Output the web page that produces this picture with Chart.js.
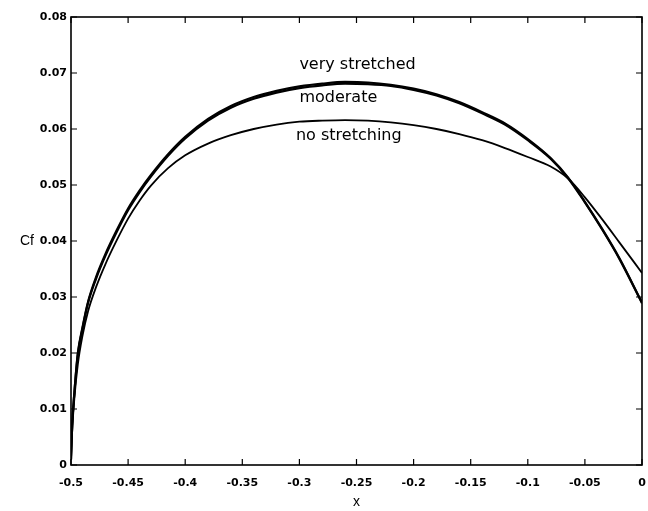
<!DOCTYPE html>
<html>
<head>
<meta charset="utf-8">
<script src="https://cdn.jsdelivr.net/npm/chart.js@4/dist/chart.umd.min.js"></script>
<style>
  html, body { margin: 0; padding: 0; background: #fff; }
  #wrap { width: 648px; height: 511px; }
</style>
</head>
<body>
<div id="wrap"><canvas id="cfChart"></canvas></div>
<script>
// x positions along the wall (denser near the leading edge)
const xPos = [-0.5, -0.499, -0.497, -0.494, -0.49, -0.485, -0.478, -0.47, -0.46, -0.45,
    -0.44, -0.43, -0.415, -0.4, -0.38, -0.36, -0.34, -0.32, -0.3, -0.28,
    -0.26, -0.24, -0.22, -0.2, -0.18, -0.16, -0.14, -0.12, -0.1, -0.08,
    -0.065, -0.05, -0.035, -0.02, 0];

const cfVeryStretched = [0.001, 0.007, 0.013, 0.020, 0.0245, 0.0292, 0.0336, 0.0376, 0.0419, 0.0458,
    0.0490, 0.0518, 0.0555, 0.0586, 0.0618, 0.0641, 0.0657, 0.0668, 0.0676, 0.0681,
    0.0684, 0.0683, 0.0679, 0.0672, 0.0662, 0.0648, 0.0630, 0.0610, 0.0582, 0.0548,
    0.0514, 0.0470, 0.0422, 0.0370, 0.0290];

const cfModerate = [0.001, 0.007, 0.013, 0.0198, 0.0243, 0.0290, 0.0333, 0.0373, 0.0416, 0.0455,
    0.0487, 0.0515, 0.0552, 0.0583, 0.0615, 0.0638, 0.0654, 0.0665, 0.0673, 0.0678,
    0.0681, 0.0680, 0.0677, 0.0670, 0.0660, 0.0646, 0.0628, 0.0608, 0.0580, 0.0547,
    0.0513, 0.0469, 0.0421, 0.0369, 0.0289];

const cfNoStretching = [0.001, 0.006, 0.012, 0.018, 0.0230, 0.0275, 0.0318, 0.0358, 0.0401, 0.0440,
    0.0472, 0.0499, 0.0530, 0.0553, 0.0574, 0.0589, 0.0600, 0.0608, 0.0613, 0.0615,
    0.0616, 0.0615, 0.0612, 0.0607, 0.0600, 0.0591, 0.0580, 0.0566, 0.0550, 0.0533,
    0.0512, 0.0478, 0.0439, 0.0398, 0.0343];

const xTicks = [-0.5, -0.45, -0.4, -0.35, -0.3, -0.25, -0.2, -0.15, -0.1, -0.05, 0];
const yTicks = [0, 0.01, 0.02, 0.03, 0.04, 0.05, 0.06, 0.07, 0.08];

// curve annotations: text, x, y (data units, left/middle anchored)
const curveLabels = [
    { text: 'very stretched', x: -0.3, y: 0.0715 },
    { text: 'moderate', x: -0.3, y: 0.0655 },
    { text: 'no stretching', x: -0.303, y: 0.0587 }
];

function toPoints(ys) {
    return xPos.map((x, i) => ({ x: x, y: ys[i] }));
}

function fmt(v) {
    return v === 0 ? '0' : String(+v.toFixed(2));
}

// frame box, inward tick marks, "Cf" and curve annotations
const framePlugin = {
    id: 'frame',
    afterDraw(chart) {
        const ctx = chart.ctx;
        const a = chart.chartArea;
        const xs = chart.scales.x;
        const ys = chart.scales.y;
        ctx.save();
        ctx.strokeStyle = '#000';
        ctx.lineWidth = 1.6;
        ctx.strokeRect(a.left, a.top, a.right - a.left, a.bottom - a.top);

        const len = 6;
        ctx.lineWidth = 1.2;
        ctx.beginPath();
        xTicks.forEach(v => {
            const px = xs.getPixelForValue(v);
            ctx.moveTo(px, a.bottom); ctx.lineTo(px, a.bottom - len);
            ctx.moveTo(px, a.top); ctx.lineTo(px, a.top + len);
        });
        yTicks.forEach(v => {
            const py = ys.getPixelForValue(v);
            ctx.moveTo(a.left, py); ctx.lineTo(a.left + len, py);
            ctx.moveTo(a.right, py); ctx.lineTo(a.right - len, py);
        });
        ctx.stroke();

        ctx.fillStyle = '#000';
        ctx.font = '14px "Liberation Sans", Arial, sans-serif';
        ctx.textBaseline = 'middle';
        ctx.textAlign = 'center';
        ctx.fillText('Cf', 27, ys.getPixelForValue(0.04));

        ctx.textAlign = 'left';
        ctx.font = '16px "DejaVu Sans", sans-serif';
        curveLabels.forEach(l => {
            ctx.fillText(l.text, xs.getPixelForValue(l.x), ys.getPixelForValue(l.y));
        });
        ctx.restore();
    }
};

const lineStyle = {
    borderColor: '#000',
    pointRadius: 0,
    fill: false,
    cubicInterpolationMode: 'monotone'
};

const tickFont = { family: '"DejaVu Sans", sans-serif', size: 11, weight: 'bold' };

new Chart(document.getElementById('cfChart'), {
    type: 'line',
    data: {
        datasets: [
            Object.assign({ label: 'very stretched', data: toPoints(cfVeryStretched), borderWidth: 2.2 }, lineStyle),
            Object.assign({ label: 'moderate', data: toPoints(cfModerate), borderWidth: 2.2 }, lineStyle),
            Object.assign({ label: 'no stretching', data: toPoints(cfNoStretching), borderWidth: 1.8 }, lineStyle)
        ]
    },
    options: {
        responsive: true,
        maintainAspectRatio: false,
        animation: false,
        layout: { padding: { top: 17, right: 6, left: 0, bottom: 0 } },
        plugins: {
            legend: { display: false },
            tooltip: { enabled: false }
        },
        scales: {
            x: {
                type: 'linear',
                min: -0.5,
                max: 0,
                afterFit: s => { s.height = 46; s.paddingRight = 0; s.paddingLeft = 0; },
                afterBuildTicks: s => { s.ticks = xTicks.map(v => ({ value: v })); },
                grid: { display: false, drawTicks: false },
                border: { display: false },
                ticks: {
                    padding: 12,
                    maxRotation: 0,
                    color: '#000',
                    font: tickFont,
                    callback: v => fmt(v)
                },
                title: {
                    display: true,
                    text: 'x',
                    color: '#000',
                    padding: { top: 0, bottom: 0 },
                    font: { family: '"Liberation Sans", Arial, sans-serif', size: 14 }
                }
            },
            y: {
                type: 'linear',
                min: 0,
                max: 0.08,
                afterFit: s => { s.width = 71; },
                afterBuildTicks: s => { s.ticks = yTicks.map(v => ({ value: v })); },
                grid: { display: false, drawTicks: false },
                border: { display: false },
                ticks: {
                    padding: 4,
                    color: '#000',
                    font: tickFont,
                    callback: v => fmt(v)
                }
            }
        }
    },
    plugins: [framePlugin]
});
</script>
</body>
</html>
